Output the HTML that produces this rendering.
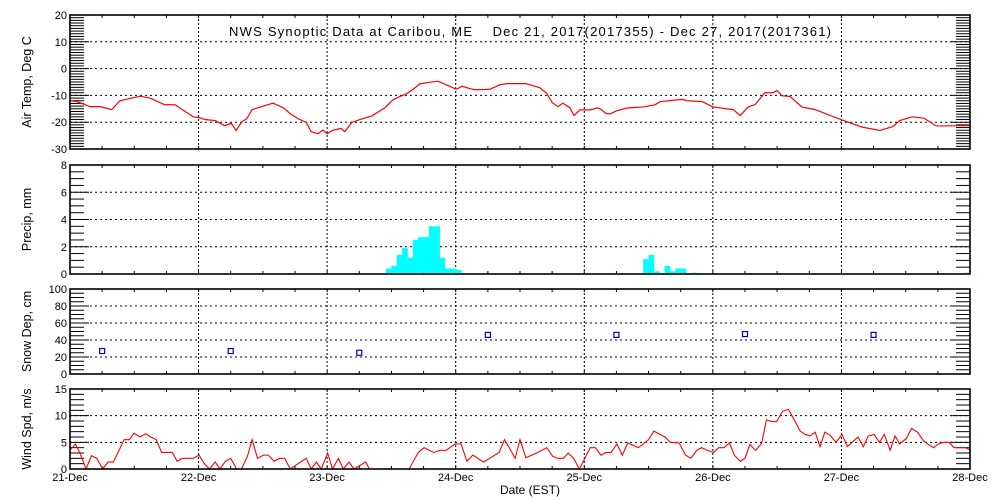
<!DOCTYPE html>
<html><head><meta charset="utf-8"><style>
html,body{margin:0;padding:0;background:#fff;}
svg{display:block;font-family:"Liberation Sans",sans-serif;}
</style></head><body>
<svg id="chart" width="1000" height="500" viewBox="0 0 1000 500" xmlns="http://www.w3.org/2000/svg">
<text x="229" y="36" font-size="13" xml:space="preserve" textLength="602" lengthAdjust="spacing">NWS Synoptic Data at Caribou, ME    Dec 21, 2017(2017355) - Dec 27, 2017(2017361)</text>
<text x="530" y="494" font-size="12" text-anchor="middle">Date (EST)</text>
</svg>
<script>
const dayLabels = ["21-Dec","22-Dec","23-Dec","24-Dec","25-Dec","26-Dec","27-Dec","28-Dec"];
const tempHours = [0,1.3,3.7,5.6,7.8,9.3,13.1,14.9,17.7,19.6,23.0,24.1,25.2,27.1,28.9,30.1,31.0,32.1,33.0,34.0,36.4,37.9,39.8,41.1,42.6,44.1,45.0,46.3,47.2,48.0,49.1,50.6,51.3,52.6,54.1,56.4,58.8,60.3,61.6,62.9,64.0,65.3,66.8,68.7,70.2,72.1,73.2,74.7,75.6,77.5,78.4,80.3,81.6,85.1,86.2,87.7,89.0,90.0,91.1,92.0,93.3,94.1,95.2,97.1,98.4,98.9,100.1,100.8,102.1,104.0,107.0,109.2,110.2,114.3,115.2,118.0,120.0,123.8,125.1,126.6,127.9,129.7,131.2,132.0,132.9,134.4,136.6,139.1,141.9,144.3,147.8,151.2,153.6,154.9,157.2,159.4,161.7,168];
const tempValues = [-12,-12.3,-14.2,-14.2,-15.3,-12,-10.3,-11,-13.5,-13.5,-18,-18.3,-19,-19.4,-21.3,-20.4,-23.1,-19.8,-18.7,-15.3,-13.8,-12.9,-14.6,-16.8,-18.7,-20.1,-23.5,-24.3,-22.9,-24.3,-23,-22.3,-23.5,-20.1,-19,-17.6,-14.6,-11.6,-10.4,-9.3,-7.8,-5.7,-5.2,-4.7,-6,-7.7,-6.6,-7.5,-7.9,-7.8,-7.7,-6,-5.6,-5.6,-6.3,-7.1,-9.3,-12.7,-14.2,-12.9,-14.6,-17.5,-15.4,-15.4,-14.7,-14.9,-16.8,-16.9,-15.7,-14.7,-14.3,-13.5,-12.3,-11.5,-12,-12.3,-14.3,-15.3,-17.5,-14.3,-13.4,-9,-9,-8.2,-10.1,-10.4,-14.3,-15.3,-17.5,-19.3,-21.8,-23.1,-21.6,-19.4,-18,-18.5,-21.4,-21.3];
const precipHours = [59,60,61,62,63,64,65,66,67,68,69,70,71,72,107,108,109,111,112,113,114,116,167];
const precipValues = [0.4,0.6,1.4,1.9,1.2,2.5,2.7,2.7,3.5,3.5,1.2,0.4,0.4,0.3,1.1,1.4,0.2,0.6,0.2,0.4,0.4,0.1,0.1];
const snowHours = [6,30,54,78,102,126,150];
const snowValues = [27,27,25,46,46,47,46];
const windHours = [0,1,1.9,3,4,5,6.1,7.1,8.1,10.1,11.1,11.9,13.1,14.1,15.1,16.1,17.1,19.1,20,21,23,24.1,25,26,27.1,28,29,30,31.1,32,33.1,34,35,36.1,37,38.1,39.1,40.1,41.1,44.1,45,46,46.9,48.1,49,50.1,51,52.1,53,55.2,55.9,63.3,65,66.1,67.9,69.1,70.2,71.9,73,74.1,75.2,77.2,80.1,81.1,82.1,83.1,84,85.1,87.1,89,90.1,91,92.1,93,94,95.1,96.1,97.1,98.1,99.1,100.1,101,102.1,103.1,104.1,106.1,107,108,109,110.1,111.1,112,113.7,114.9,115.9,117,117.9,119,120.1,121.1,122.1,123.1,124,125.1,126,126.9,128,129.1,130,131,131.9,133,134.1,135.2,136.3,137.2,138.1,139.1,140,140.9,141.9,143,144.1,145.1,146.1,147.1,148.1,149,150.1,151.1,152,153.1,154,154.9,156.1,157.1,158.2,159.3,160.2,161.2,162.1,163,164.1,165,167.1,168];
const windValues = [3.5,4.7,2.9,0,2.5,2.0,0,1.3,1.3,5.5,5.5,6.7,6.0,6.6,6.0,5.5,3.1,3.1,1.45,2.0,2.0,2.6,1.1,0,1.3,0,1.45,2.0,0,0,2.3,5.5,2.0,2.6,2.6,1.45,2.0,2.0,0,2.0,0,1.3,0,3.0,0,2.0,0,1.3,0,1.3,0,0,3.1,4.0,3.1,3.5,3.5,4.7,4.7,1.45,2.6,1.3,3.1,5.5,3.8,2.0,5.5,2.1,3.0,4.0,2.4,2.0,2.0,3.0,2.0,0,2.0,4.0,4.0,2.6,3.1,3.1,4.7,2.6,4.9,4.0,4.7,5.5,7.1,6.5,6.0,5.0,4.9,2.6,2.0,3.5,4.0,3.5,3.1,4.0,4.0,4.9,2.6,1.45,2.0,4.6,3.5,4.8,9.2,8.9,8.9,10.8,11.2,9.2,7.1,6.5,6.2,6.9,4.2,6.9,6.3,5.0,6.5,4.2,5.1,6.0,4.2,6.2,6.5,5.0,6.5,3.5,6.2,4.7,5.7,7.6,6.9,5.3,4.6,4.0,4.7,5.0,5.0,4.0,4.0,3.6];

const NS="http://www.w3.org/2000/svg";
const svg=document.getElementById('chart');
const X0=70, X1=970, HMAX=168;
function xs(h){return X0+(X1-X0)*h/HMAX;}
function mk(tag,attrs,parent){const e=document.createElementNS(NS,tag);for(const k in attrs)e.setAttribute(k,attrs[k]);(parent||svg).appendChild(e);return e;}

const panels=[
 {name:'air-temp',top:15,bot:149,min:-30,max:20,major:10,minor:1,label:'Air Temp, Deg C'},
 {name:'precip',top:165,bot:274,min:0,max:8,major:2,minor:0.5,label:'Precip, mm'},
 {name:'snow-depth',top:289,bot:374,min:0,max:100,major:20,minor:5,label:'Snow Dep, cm'},
 {name:'wind-speed',top:389,bot:469,min:0,max:15,major:5,minor:1,label:'Wind Spd, m/s'}
];
const frames=[];
panels.forEach((p,pi)=>{
  p.ys=v=>p.bot-(p.bot-p.top)*(v-p.min)/(p.max-p.min);
  const g=mk('g',{});
  
  
  for(let d=1;d<7;d++){
    const l=mk('line',{x1:xs(d*24),x2:xs(d*24),y1:p.top,y2:p.bot,stroke:'#000','stroke-width':1,'stroke-dasharray':'2,2'},g);
    
    
  }
  for(let v=p.min+p.major;v<p.max;v+=p.major){
    const l=mk('line',{x1:X0,x2:X1,y1:p.ys(v),y2:p.ys(v),stroke:'#000','stroke-width':1,'stroke-dasharray':'2,3'},g);
    
    
  }
  const n=Math.round((p.max-p.min)/p.minor);
  for(let i=0;i<=n;i++){
    const v=p.min+i*p.minor, y=p.ys(v);
    const isMaj=Math.abs((v-p.min)/p.major-Math.round((v-p.min)/p.major))<1e-6;
    const len=isMaj?19:14;
    mk('line',{x1:X0,x2:X0+len,y1:y,y2:y,stroke:'#000','stroke-width':1},g);
    mk('line',{x1:X1,x2:X1-len,y1:y,y2:y,stroke:'#000','stroke-width':1},g);
    if(isMaj){
      const t=mk('text',{x:X0-3,y:y+4,'font-size':11,'text-anchor':'end'},g);
      t.textContent=String(v);
      
      
    }
  }
  for(let h=6;h<HMAX;h+=6){
    mk('line',{x1:xs(h),x2:xs(h),y1:p.top,y2:p.top+3,stroke:'#000','stroke-width':1},g);
    mk('line',{x1:xs(h),x2:xs(h),y1:p.bot,y2:p.bot-3,stroke:'#000','stroke-width':1},g);
  }
  const cy=(p.top+p.bot)/2;
  const yl=mk('text',{x:31,y:cy,'font-size':12.5,'text-anchor':'middle',transform:`rotate(-90 31 ${cy})`},g);
  yl.textContent=p.label;
  
  
});

{const p=panels[0];
 const pl=mk('polyline',{fill:'none',stroke:'#ff0000','stroke-width':1.2,points:tempHours.map((h,i)=>xs(h)+','+p.ys(tempValues[i])).join(' ')});
 
 }
{const p=panels[1];const w=xs(1)-xs(0);
 precipHours.forEach((h,i)=>{
   const y=p.ys(precipValues[i]);
   const r=mk('rect',{x:xs(h),y:y,width:w+0.3,height:p.bot-y-1,fill:'#00ffff'});
   
   
 });}
{const p=panels[2];
 snowHours.forEach((h,i)=>{
   const r=mk('rect',{x:xs(h)-2.5,y:p.ys(snowValues[i])-2.5,width:5,height:5,fill:'none',stroke:'#0000cc','stroke-width':1.2});
   
   
 });}
{const p=panels[3];
 const pl=mk('polyline',{fill:'none',stroke:'#ff0000','stroke-width':1.1,points:windHours.map((h,i)=>xs(h)+','+p.ys(windValues[i])).join(' ')});
 
 }
// frames drawn on top of marks
panels.forEach(p=>{
  const fr=mk('rect',{x:X0,y:p.top,width:X1-X0,height:p.bot-p.top,fill:'none',stroke:'#000','stroke-width':1.6});
  
  
});
dayLabels.forEach((d,i)=>{
  const t=mk('text',{x:xs(i*24),y:481,'font-size':11,'text-anchor':'middle'});
  t.textContent=d;
  
  
});
</script>
</body></html>
